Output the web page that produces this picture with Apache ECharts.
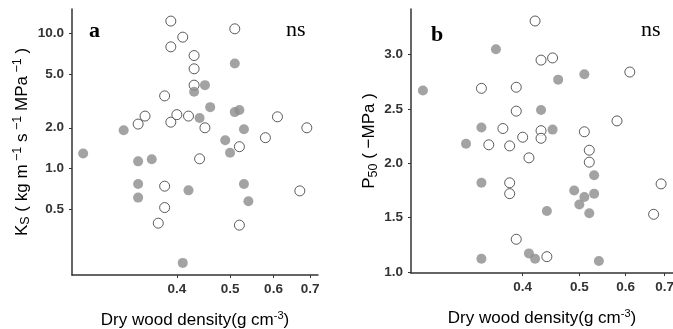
<!DOCTYPE html>
<html>
<head>
<meta charset="utf-8">
<script src="https://cdn.jsdelivr.net/npm/echarts@6/dist/echarts.min.js"></script>
<style>
  html, body { margin: 0; padding: 0; background: #fff; }
  #chart { width: 673px; height: 329px; }
</style>
</head>
<body>
<div id="chart"></div>
<script>
// Dry wood density against sapwood-specific conductivity (Ks, log scale)
// and xylem vulnerability (P50), for two groups of species.

// open circles
const densityOpen = [0.34, 0.35, 0.37, 0.38, 0.38, 0.38, 0.39, 0.39, 0.39, 0.40, 0.41, 0.42,
                     0.43, 0.43, 0.43, 0.44, 0.45, 0.51, 0.52, 0.52, 0.58, 0.61, 0.67, 0.69];
const ksOpen      = [2.13, 2.44, 0.395, 3.44, 0.741, 0.515, 12.27, 7.92, 2.20, 2.50, 9.34, 2.44,
                     6.83, 5.45, 4.13, 1.18, 2.00, 10.76, 1.45, 0.382, 1.69, 2.41, 0.684, 2.00];
const p50Open     = [2.69, 2.17, 2.32, 2.16, 1.82, 1.72, 2.70, 2.48, 1.30, 2.24, 2.05, 3.31,
                     2.95, 2.30, 2.23, 1.14, 2.97, 2.29, 2.12, 2.01, 2.39, 2.84, 1.53, 1.81];

// filled circles
const densityFilled = [0.27, 0.32, 0.34, 0.34, 0.34, 0.36, 0.41, 0.42, 0.43, 0.44,
                       0.45, 0.46, 0.49, 0.50, 0.51, 0.51, 0.52, 0.53, 0.53, 0.54];
const ksFilled      = [1.29, 1.92, 1.13, 0.77, 0.61, 1.17, 0.201, 0.69, 3.69, 2.36,
                       4.13, 2.84, 1.62, 1.31, 5.96, 2.61, 2.71, 1.95, 0.77, 0.574];
const p50Filled     = [2.67, 2.18, 2.33, 1.82, 1.12, 3.05, 1.17, 1.12, 2.49, 1.56,
                       2.31, 2.77, 1.75, 1.62, 2.82, 1.69, 1.54, 1.89, 1.72, 1.10];

// tick marks
const densityTicks = [0.4, 0.5, 0.6, 0.7];
const ksTicks = [0.5, 1.0, 2.0, 5.0, 10.0];
const p50Ticks = [1.0, 1.5, 2.0, 2.5, 3.0];

const log10 = Math.log10;

// ggplot-style 5% padding around the data range
function padded(values, f) {
  const lo = Math.min(...values), hi = Math.max(...values);
  const d = (hi - lo) * (f || 0.05);
  return [lo - d, hi + d];
}

const xRange = padded(densityOpen.concat(densityFilled).map(log10));
const ksRange = padded(ksOpen.concat(ksFilled).map(log10));
const p50Range = padded(p50Open.concat(p50Filled));

// label text for a tick on a log10-transformed axis
function logLabel(ticks) {
  return function (v) {
    for (const t of ticks) {
      if (Math.abs(log10(t) - v) < 1e-6) return t.toFixed(1);
    }
    return '';
  };
}

const FONT = "'Liberation Sans', Arial, sans-serif";
const SERIF = "'Liberation Serif', 'Times New Roman', serif";
const AXIS_COLOR = '#333';

const tickLabel = {
  color: '#333', fontFamily: FONT, fontWeight: 'bold', fontSize: 13.5
};

function axisCommon() {
  return {
    axisLine: { show: true, onZero: false, lineStyle: { color: AXIS_COLOR, width: 1.5 } },
    axisTick: { show: true, length: 3, lineStyle: { color: AXIS_COLOR, width: 1 } },
    splitLine: { show: false }
  };
}

const nameStyle = {
  color: '#000', fontFamily: FONT, fontSize: 17,
  rich: {
    sup: { fontFamily: FONT, fontSize: 11, color: '#000', padding: [0, 0, 9, 0] },
    ysup: { fontFamily: FONT, fontSize: 12.5, color: '#000', padding: [0, 0, 9, 0] },
    sub: { fontFamily: FONT, fontSize: 12.5, color: '#000', padding: [8, 0, 0, 0] }
  }
};

function densityAxis(gridIndex) {
  const ticks = densityTicks.map(log10);
  return Object.assign(axisCommon(), {
    type: 'value', gridIndex,
    min: xRange[0], max: xRange[1],
    name: 'Dry wood density(g cm{sup|-3})',
    nameLocation: 'middle', nameGap: 35,
    nameTextStyle: nameStyle,
    axisTick: { show: true, length: 3, customValues: ticks, lineStyle: { color: AXIS_COLOR, width: 1 } },
    axisLabel: Object.assign({ margin: 7, customValues: ticks, formatter: logLabel(densityTicks) }, tickLabel)
  });
}

const option = {
  animation: false,
  backgroundColor: '#fff',
  grid: [
    { left: 72, top: 9, width: 246, height: 266, outerBoundsMode: 'none', containLabel: false },
    { left: 411, top: 9, width: 262, height: 264, outerBoundsMode: 'none', containLabel: false }
  ],
  xAxis: [densityAxis(0), densityAxis(1)],
  yAxis: [
    Object.assign(axisCommon(), {
      type: 'value', gridIndex: 0,
      min: ksRange[0], max: ksRange[1],
      name: 'K{sub|S} ( kg m{ysup| \u22121} s{ysup| \u22121} MPa{ysup| \u22121} )',
      nameLocation: 'middle', nameGap: 39, nameRotate: 90,
      nameTextStyle: nameStyle,
      axisTick: { show: true, length: 3, customValues: ksTicks.map(log10), lineStyle: { color: AXIS_COLOR, width: 1 } },
      axisLabel: Object.assign({ margin: 8, customValues: ksTicks.map(log10), formatter: logLabel(ksTicks) }, tickLabel)
    }),
    Object.assign(axisCommon(), {
      type: 'value', gridIndex: 1,
      min: p50Range[0], max: p50Range[1],
      name: 'P{sub|50} ( \u2212MPa )',
      nameLocation: 'middle', nameGap: 31, nameRotate: 90,
      nameTextStyle: nameStyle,
      axisTick: { show: true, length: 3, customValues: p50Ticks, lineStyle: { color: AXIS_COLOR, width: 1 } },
      axisLabel: Object.assign({ margin: 8, customValues: p50Ticks, formatter: v => v.toFixed(1) }, tickLabel)
    })
  ],
  series: [
    {
      type: 'scatter', xAxisIndex: 0, yAxisIndex: 0, symbolSize: 10,
      itemStyle: { color: '#fff', borderColor: '#333', borderWidth: 1 },
      data: densityOpen.map((d, i) => [log10(d), log10(ksOpen[i])])
    },
    {
      type: 'scatter', xAxisIndex: 0, yAxisIndex: 0, symbolSize: 10,
      itemStyle: { color: '#8c8c8c', borderWidth: 0 },
      data: densityFilled.map((d, i) => [log10(d), log10(ksFilled[i])])
    },
    {
      type: 'scatter', xAxisIndex: 1, yAxisIndex: 1, symbolSize: 10,
      itemStyle: { color: '#fff', borderColor: '#333', borderWidth: 1 },
      data: densityOpen.map((d, i) => [log10(d), p50Open[i]])
    },
    {
      type: 'scatter', xAxisIndex: 1, yAxisIndex: 1, symbolSize: 10,
      itemStyle: { color: '#8c8c8c', borderWidth: 0 },
      data: densityFilled.map((d, i) => [log10(d), p50Filled[i]])
    }
  ],
  graphic: [
    { type: 'text', left: 89, top: 20, style: { text: 'a', fontFamily: SERIF, fontWeight: 'bold', fontSize: 22, fill: '#000' } },
    { type: 'text', left: 286, top: 19, style: { text: 'ns', fontFamily: SERIF, fontSize: 22, fill: '#000' } },
    { type: 'text', left: 431, top: 24, style: { text: 'b', fontFamily: SERIF, fontWeight: 'bold', fontSize: 22, fill: '#000' } },
    { type: 'text', left: 641, top: 19, style: { text: 'ns', fontFamily: SERIF, fontSize: 22, fill: '#000' } }
  ]
};

const chart = echarts.init(document.getElementById('chart'), null, { renderer: 'canvas' });
chart.setOption(option);
</script>
</body>
</html>
